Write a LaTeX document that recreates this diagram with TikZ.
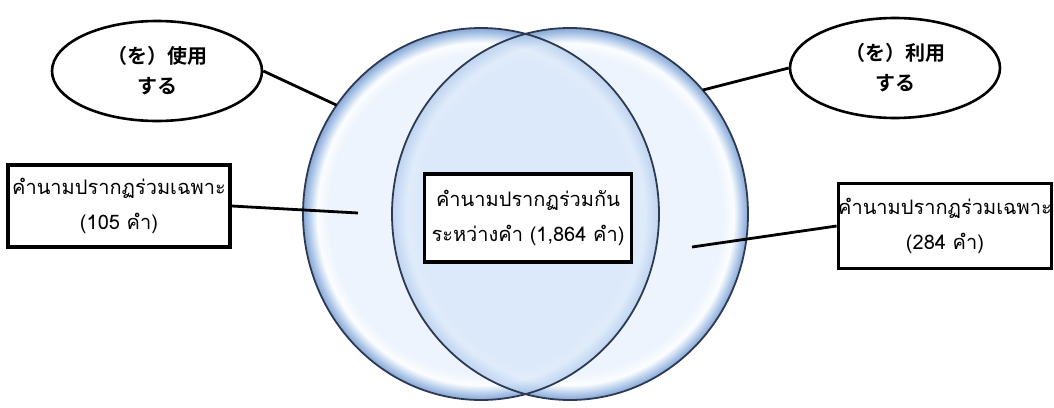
\documentclass[tikz,border=0pt]{standalone}
\usepackage{fontspec}
\newfontfamily\thaifont[Script=Thai]{Loma}
\newfontfamily\jpfont{Noto Sans CJK JP}[BoldFont={Noto Sans CJK JP Bold}]
\usetikzlibrary{shapes.geometric}

\definecolor{vcore}{RGB}{238,244,253}
\definecolor{vhigh}{RGB}{251,253,255}
\definecolor{vmid}{RGB}{176,201,234}
\definecolor{vedge}{RGB}{136,166,210}
\definecolor{vover}{RGB}{200,221,247}
\definecolor{vline}{RGB}{44,58,84}
\pgfdeclareradialshading{vennball}{\pgfpoint{0bp}{0bp}}{%
  color(0bp)=(vcore); color(21.4bp)=(vcore); color(23bp)=(vhigh);
  color(24.2bp)=(vmid); color(25bp)=(vedge); color(50bp)=(vedge)}

\begin{document}
\begin{tikzpicture}[
  x=1pt, y=-1pt,
  venn/.style={ellipse,shade,shading=vennball,minimum width=356,
    minimum height=372,inner sep=0pt},
  rim/.style={draw=vline,line width=1.8pt},
  verb/.style={ellipse,draw,line width=2.6pt,fill=white,minimum width=210,
    minimum height=100,inner sep=0pt,align=center,
    font=\jpfont\bfseries\fontsize{20}{30}\selectfont},
  tbox/.style={draw,line width=3.2pt,fill=white,align=center,inner sep=0pt,
    font=\thaifont\fontsize{20}{35}\selectfont},
  link/.style={line width=2.8pt}
]
  \useasboundingbox (0,0) rectangle (1054,407);

  % the two word sets
  \node[venn] (useC) at (481,214) {};
  \node[venn] (riyouC) at (570,214) {};
  \begin{scope}
    \clip (riyouC.center) ellipse [x radius=178,y radius=186];
    \shade[shading=vennball,fill opacity=0.5] (useC.center)
      ellipse [x radius=178,y radius=186];
    \fill[vover,fill opacity=0.45] (useC.center) ellipse [x radius=178,y radius=186];
  \end{scope}
  \draw[rim] (useC.center) ellipse [x radius=178,y radius=186];
  \draw[rim] (riyouC.center) ellipse [x radius=178,y radius=186];

  \node[verb] (useE) at (157,71) {（を）使用\\する};
  \node[verb] (riyouE) at (895,68) {（を）利用\\する};

  \node[tbox,minimum width=222,minimum height=82] (onlyUse) at (119,206)
    {คำนามปรากฏร่วมเฉพาะ\\(105 คำ)};
  \node[tbox,minimum width=207,minimum height=88] (shared) at (528,218)
    {คำนามปรากฏร่วมกัน\\ระหว่างคำ (1,864 คำ)};
  \node[tbox,minimum width=206,minimum height=85] (onlyRiyou) at (945,226)
    {คำนามปรากฏร่วมเฉพาะ\\(284 คำ)};

  \coordinate (useIn) at (358,213);
  \coordinate (riyouIn) at (692,247);

  \draw[link] (useE.east) -- (useC.143);
  \draw[link] (riyouE.west) -- (riyouC.43);
  \draw[link] (onlyUse.east) -- (useIn);
  \draw[link] (onlyRiyou.west) -- (riyouIn);
\end{tikzpicture}
\end{document}
